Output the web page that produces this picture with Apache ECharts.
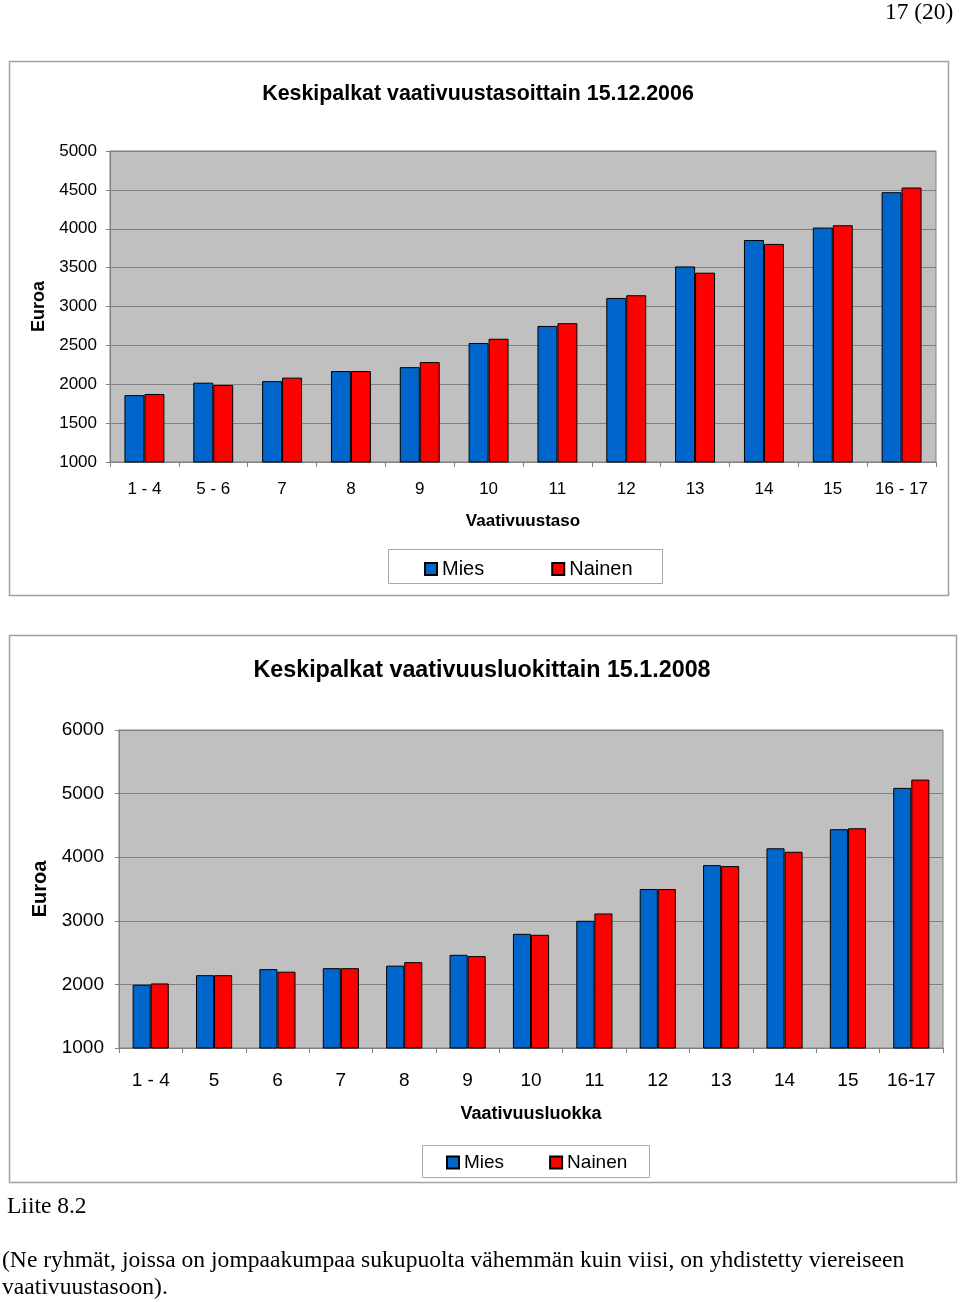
<!DOCTYPE html>
<html>
<head>
<meta charset="utf-8">
<script src="https://cdn.jsdelivr.net/npm/echarts@6/dist/echarts.min.js"></script>
<style>
html,body{margin:0;padding:0;background:#fff;}
#c{width:960px;height:1302px;}
</style>
</head>
<body>
<div id="c"></div>
<script>
const categories2006 = ['1 - 4','5 - 6','7','8','9','10','11','12','13','14','15','16 - 17'];
const mies2006 = [1860,2020,2040,2170,2220,2530,2750,3110,3515,3855,4015,4470];
const nainen2006 = [1875,1990,2085,2170,2285,2585,2785,3145,3435,3805,4045,4530];
const categories2008 = ['1 - 4','5','6','7','8','9','10','11','12','13','14','15','16-17'];
const mies2008 = [1995,2145,2240,2255,2295,2465,2795,3000,3500,3875,4140,4440,5090];
const nainen2008 = [2015,2145,2200,2255,2350,2445,2780,3115,3500,3860,4085,4455,5220];
const seriesNames = ['Mies','Nainen'];
const title2006 = 'Keskipalkat vaativuustasoittain 15.12.2006';
const title2008 = 'Keskipalkat vaativuusluokittain 15.1.2008';

const SANS = '"Liberation Sans", Arial, sans-serif';
const SERIF = '"Liberation Serif", "Times New Roman", serif';
const BLUE = '#0066CC', RED = '#FF0000', GRID = '#808080';

const chart = echarts.init(document.getElementById('c'), null, {renderer:'canvas'});

function xAxisCfg(gi, cats, fs, margin, name, nameFs, nameGap){
  return {type:'category', gridIndex:gi, data:cats,
    axisLine:{lineStyle:{color:GRID,width:1}},
    axisTick:{show:true, alignWithLabel:false, length:5, lineStyle:{color:GRID}},
    axisLabel:{color:'#000', fontFamily:SANS, fontSize:fs, margin:margin},
    name:name, nameLocation:'middle', nameGap:nameGap,
    nameTextStyle:{color:'#000', fontFamily:SANS, fontSize:nameFs, fontWeight:'bold'}};
}
function yAxisCfg(gi, min, max, interval, fs, margin, nameFs, nameGap){
  return {type:'value', gridIndex:gi, min:min, max:max, interval:interval,
    axisLine:{show:true, lineStyle:{color:GRID,width:1}},
    axisTick:{show:true, length:4, lineStyle:{color:GRID}},
    axisLabel:{color:'#000', fontFamily:SANS, fontSize:fs, margin:margin, formatter:function(v){return String(v);}},
    splitLine:{show:true, lineStyle:{color:GRID,width:1}},
    name:'Euroa', nameLocation:'middle', nameRotate:90, nameGap:nameGap,
    nameTextStyle:{color:'#000', fontFamily:SANS, fontSize:nameFs, fontWeight:'bold'}};
}
function bar(name, data, color, ai, gap){
  return {type:'bar', name:name, data:data, xAxisIndex:ai, yAxisIndex:ai,
    barGap:'0%', barCategoryGap:gap,
    itemStyle:{color:color, borderColor:'#000', borderWidth:1}};
}

chart.setOption({
  backgroundColor:'#fff',
  animation:false,
  title:[
    {text:title2006, left:473, top:79, textAlign:'center',
     textStyle:{fontFamily:SANS, fontSize:21.4, fontWeight:'bold', color:'#000'}},
    {text:title2008, left:477, top:654, textAlign:'center',
     textStyle:{fontFamily:SANS, fontSize:23.3, fontWeight:'bold', color:'#000'}}
  ],
  legend:[
    {data:seriesNames, left:424, top:559, padding:0, itemGap:67, itemWidth:12, itemHeight:12, icon:'rect',
     textStyle:{fontFamily:SANS, fontSize:20, color:'#000'}, selectedMode:false},
    {data:seriesNames, left:446, top:1153, padding:0, itemGap:45, itemWidth:12, itemHeight:12, icon:'rect',
     textStyle:{fontFamily:SANS, fontSize:19, color:'#000'}, selectedMode:false}
  ],
  grid:[
    {left:110, top:151, width:826, height:311, show:true, backgroundColor:'#C0C0C0', borderColor:GRID, borderWidth:1, containLabel:false},
    {left:119, top:730, width:824, height:318, show:true, backgroundColor:'#C0C0C0', borderColor:GRID, borderWidth:1, containLabel:false}
  ],
  xAxis:[
    xAxisCfg(0, categories2006, 17, 19, 'Vaativuustaso', 17, 51),
    xAxisCfg(1, categories2008, 19, 23, 'Vaativuusluokka', 18, 57)
  ],
  yAxis:[
    yAxisCfg(0, 1000, 5000, 500, 17, 13, 18, 58),
    yAxisCfg(1, 1000, 6000, 1000, 19, 15, 20, 63)
  ],
  series:[
    bar('Mies', mies2006, BLUE, 0, '42%'),
    bar('Nainen', nainen2006, RED, 0, '42%'),
    bar('Mies', mies2008, BLUE, 1, '43%'),
    bar('Nainen', nainen2008, RED, 1, '43%')
  ],
  graphic:[
    {type:'rect', z:-10, shape:{x:9.5, y:61.5, width:939, height:534}, style:{fill:'#fff', stroke:'#a0a0a0', lineWidth:1.5}},
    {type:'rect', z:-10, shape:{x:9.5, y:635.5, width:947, height:547}, style:{fill:'#fff', stroke:'#a0a0a0', lineWidth:1.5}},
    {type:'rect', z:-5, shape:{x:388.5, y:549.5, width:274, height:34}, style:{fill:'#fff', stroke:'#a8a8a8', lineWidth:1}},
    {type:'rect', z:-5, shape:{x:422.5, y:1145.5, width:227, height:32}, style:{fill:'#fff', stroke:'#a8a8a8', lineWidth:1}},
    {type:'text', left:885, top:1, style:{text:'17 (20)', font:'23.4px ' + SERIF, fill:'#000'}},
    {type:'text', left:7, top:1195, style:{text:'Liite 8.2', font:'23.5px ' + SERIF, fill:'#000'}},
    {type:'text', left:2, top:1249, style:{text:'(Ne ryhmät, joissa on jompaakumpaa sukupuolta vähemmän kuin viisi, on yhdistetty viereiseen', font:'23.6px ' + SERIF, fill:'#000'}},
    {type:'text', left:2, top:1276, style:{text:'vaativuustasoon).', font:'23.6px ' + SERIF, fill:'#000'}}
  ]
});
</script>
</body>
</html>
